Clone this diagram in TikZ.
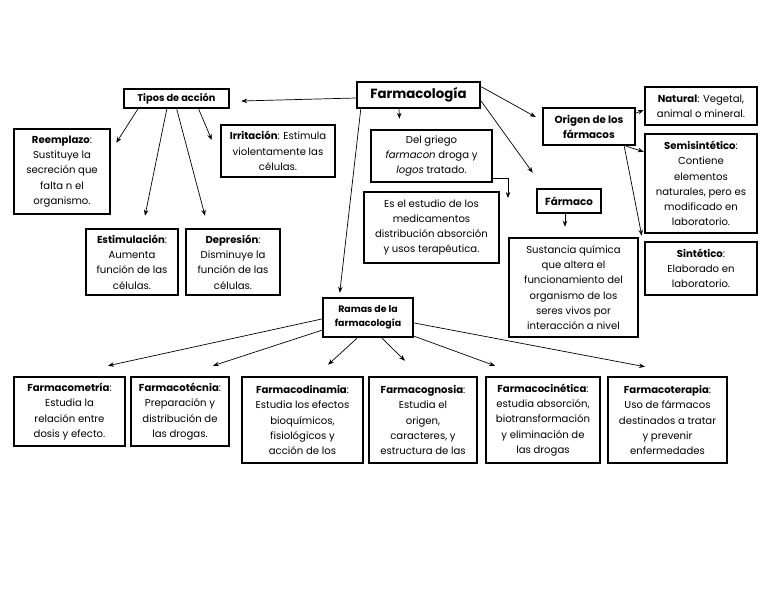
\documentclass[tikz,border=0pt]{standalone}
\usepackage{fontspec}
\setmainfont{Poppins}
\usetikzlibrary{arrows.meta,calc}
\begin{document}
\begin{tikzpicture}[x=1pt,y=-1pt,
  box/.style={draw=black,line width=2.5pt,align=center,inner sep=0pt,font=\fontsize{10.1}{15.3}\selectfont},
  ttl/.style={box,font=\fontsize{9.8}{14}\selectfont\bfseries},
  arr/.style={-{Stealth[length=6pt,width=4.5pt]},line width=0.7pt}]
\useasboundingbox[fill=white] (0,0) rectangle (768,594);
% top
\node[box,minimum width=123pt,minimum height=26pt,font=\fontsize{13.3}{15}\selectfont\bfseries] (farm) at (418.5,95) {Farmacología};
\node[ttl,minimum width=105pt,minimum height=19pt] (tipos) at (176.5,98.5) {Tipos de acción};
\node[box,minimum width=96pt,minimum height=85pt] (reem) at (62,171.5) {\textbf{Reemplazo}:\\Sustituye la\\secreción que\\falta n el\\organismo.};
\node[box,minimum width=114pt,minimum height=52pt] (irr) at (278,151) {\textbf{Irritación}: Estimula\\violentamente las\\células.};
\node[box,minimum width=121pt,minimum height=52pt] (griego) at (431.5,156) {Del griego\\\textit{farmacon} droga y\\\textit{logos} tratado.};
\node[box,minimum width=135pt,minimum height=71pt] (estudio) at (431.5,227.5) {Es el estudio de los\\medicamentos\\distribución absorción\\y usos terapéutica.};
\node[ttl,minimum width=92pt,minimum height=37pt,font=\fontsize{10.3}{15}\selectfont\bfseries] (origen) at (589,126.5) {Origen de los\\fármacos};
\node[box,minimum width=112pt,minimum height=38pt] (natural) at (701,106) {\textbf{Natural}: Vegetal,\\animal o mineral.};
\node[box,minimum width=112pt,minimum height=99pt] (semi) at (701,183.5) {\textbf{Semisintético}:\\Contiene\\elementos\\naturales, pero es\\modificado en\\laboratorio.};
\node[box,minimum width=112pt,minimum height=53pt] (sint) at (701,268.5) {\textbf{Sintético}:\\Elaborado en\\laboratorio.};
\node[ttl,minimum width=64pt,minimum height=24pt,font=\fontsize{10.3}{15}\selectfont\bfseries] (farmaco) at (569,201) {Fármaco};
\node[box,minimum width=129pt,minimum height=99pt] (sust) at (573.5,287.5) {Sustancia química\\que altera el\\funcionamiento del\\organismo de los\\seres vivos por\\interacción a nivel};
\node[box,minimum width=92pt,minimum height=66pt] (estim) at (132,262) {\textbf{Estimulación}:\\Aumenta\\función de las\\células.};
\node[box,minimum width=94pt,minimum height=66pt] (depr) at (233,262) {\textbf{Depresión}:\\Disminuye la\\función de las\\células.};
\node[ttl,minimum width=90pt,minimum height=39pt,font=\fontsize{9.4}{14}\selectfont\bfseries] (ramas) at (368,317.5) {Ramas de la\\farmacología};
% bottom row
\node[box,minimum width=111pt,minimum height=69pt] (fmet) at (69.5,411.5) {\textbf{Farmacometría}:\\Estudia la\\relación entre\\dosis y efecto.};
\node[box,minimum width=98pt,minimum height=69pt] (ftec) at (180,411.5) {\textbf{Farmacotécnia}:\\Preparación y\\distribución de\\las drogas.};
\node[box,minimum width=121pt,minimum height=86pt] (fdin) at (302.5,420) {\textbf{Farmacodinamia}:\\Estudia los efectos\\bioquímicos,\\fisiológicos y\\acción de los};
\node[box,minimum width=108pt,minimum height=86pt] (fcog) at (423,420) {\textbf{Farmacognosia}:\\Estudia el\\origen,\\caracteres, y\\estructura de las};
\node[box,minimum width=114pt,minimum height=86pt] (fcin) at (543,420) {\textbf{Farmacocinética}:\\estudia absorción,\\biotransformación\\y eliminación de\\las drogas};
\node[box,minimum width=119pt,minimum height=86pt] (fter) at (667.5,420) {\textbf{Farmacoterapia}:\\Uso de fármacos\\destinados a tratar\\y prevenir\\enfermedades};
% connectors
\coordinate (gend) at (508,198);
\draw[arr] ($(farm.west)+(0,3)$) -- ($(tipos.east)+(11,2.5)$);
\draw[arr] ($(farm.south)+(-19.5,0)$) -- ($(griego.north)+(-32,-10)$);
\draw[arr] ($(farm.south west)+(5,0)$) -- ($(ramas.north west)+(18,-4)$);
\draw[arr] ($(farm.north east)+(0,6)$) -- ($(origen.west)+(-6,-9.5)$);
\draw[arr] ($(farm.south east)+(0,-8)$) -- ($(farmaco.north west)+(-3,-15)$);
\draw[arr] ($(griego.south east)+(0,-5)$) -| (gend);
\draw[arr] ($(origen.east)+(0,-13.5)$) -- ($(natural.west)+(0,4)$);
\draw[arr] ($(origen.south east)+(-10,0)$) -- ($(semi.north west)+(0,19)$);
\draw[arr] ($(origen.south east)+(-12,0)$) -- ($(sint.north west)+(-2,-5)$);
\draw[arr] ($(farmaco.south)+(-4,0)$) -- ($(sust.north)+(-8.5,-10)$);
\draw[arr] ($(tipos.south west)+(15,0)$) -- ($(reem.north east)+(5,15)$);
\draw[arr] ($(tipos.south west)+(44,0)$) -- ($(estim.north)+(13,-12)$);
\draw[arr] ($(tipos.south west)+(54,0)$) -- ($(depr.north)+(-28,-12)$);
\draw[arr] ($(tipos.south west)+(76,0)$) -- ($(irr.west)+(-8,-11)$);
\draw[arr] ($(ramas.west)+(0,1.5)$) -- ($(fmet.north)+(38.5,-10)$);
\draw[arr] ($(ramas.south west)+(0,-8)$) -- ($(ftec.north)+(33,-10)$);
\draw[arr] ($(ramas.south)+(-11,0)$) -- ($(fdin.north)+(25.5,-11)$);
\draw[arr] ($(ramas.south)+(14,0)$) -- ($(fcog.north)+(-18,-15)$);
\draw[arr] ($(ramas.south east)+(0,-2)$) -- ($(fcin.north)+(-48,-10)$);
\draw[arr] ($(ramas.east)+(0,5.5)$) -- ($(fter.north)+(-22.5,-9)$);
\end{tikzpicture}
\end{document}
